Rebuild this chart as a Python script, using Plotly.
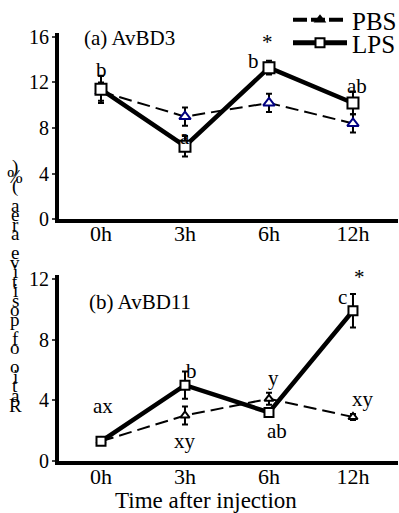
import plotly.graph_objects as go

# ---------------- data ----------------
time_labels = ["0h", "3h", "6h", "12h"]

a_pbs = [11.2, 9.0, 10.2, 8.4]
a_pbs_err = [0.8, 0.8, 0.8, 0.8]
a_lps = [11.4, 6.4, 13.3, 10.2]
a_lps_err = [1.2, 0.9, 0.6, 1.0]

b_pbs = [1.3, 3.0, 4.1, 2.9]
b_pbs_err = [0.1, 0.6, 0.4, 0.2]
b_lps = [1.3, 5.0, 3.2, 9.9]
b_lps_err = [0.1, 0.9, 0.2, 1.1]

a_ticks = [0, 4, 8, 12, 16]
b_ticks = [0, 4, 8, 12]

y_title = "Ratio of positive area (%)"
x_title = "Time after injection"

FONT = "Liberation Serif"
W, H = 399, 513
xs = list(range(len(time_labels)))

fig = go.Figure()


def add_series(y, err, xa, ya, color, symbol, fill, lw, dash, msize):
    fig.add_trace(go.Scatter(
        x=xs, y=y, xaxis=xa, yaxis=ya, mode="lines+markers",
        line=dict(color="black", width=lw, dash=dash),
        marker=dict(symbol=symbol, size=msize, color=fill,
                    line=dict(color=color, width=2)),
        error_y=dict(type="data", array=err, visible=True,
                     color="black", thickness=2, width=3),
        showlegend=False, cliponaxis=False))


# panel (a)
add_series(a_pbs, a_pbs_err, "x", "y", "#000080", "triangle-up", "white", 2, "13px,6px", 10)
add_series(a_lps, a_lps_err, "x", "y", "black", "square", "white", 4.5, "solid", 11)
# panel (b)
add_series(b_pbs, b_pbs_err, "x2", "y2", "black", "triangle-up", "white", 2, "13px,6px", 8)
add_series(b_lps, b_lps_err, "x2", "y2", "black", "square", "white", 4.5, "solid", 9)

# legend entries
fig.add_trace(go.Scatter(x=[None], y=[None], name="PBS", mode="lines+markers",
                         line=dict(color="black", width=4, dash="14px,4px"),
                         marker=dict(symbol="triangle-up", size=11, color="black"),
                         showlegend=True, legend="legend"))
fig.add_trace(go.Scatter(x=[None], y=[None], name="LPS", mode="lines+markers",
                         line=dict(color="black", width=5),
                         marker=dict(symbol="square", size=9, color="white",
                                     line=dict(color="black", width=2)),
                         showlegend=True, legend="legend2"))

L, R = 59, 1
plot_w = W - L - R


def py(px):  # figure pixel y -> paper y (margins t=b=0)
    return (H - px) / H


def px_x(px):  # figure pixel x -> paper x (plot area)
    return (px - L) / plot_w


axis_common = dict(showline=True, linewidth=4, linecolor="black", showgrid=False,
                   zeroline=False, automargin=False)
xfont = dict(family=FONT, size=22, color="black")
yfont = dict(family=FONT, size=20, color="black")

leg_font = dict(family=FONT, size=25, color="black")

fig.update_layout(
    width=W, height=H, margin=dict(l=L, r=R, t=0, b=0, autoexpand=False),
    paper_bgcolor="white", plot_bgcolor="white",
    font=dict(family=FONT, color="black"),
    xaxis=dict(domain=[0, 1], anchor="y", range=[-0.5, 3.536], tickmode="array",
               tickvals=xs, ticktext=time_labels, ticks="", ticklabelstandoff=-8,
               tickfont=xfont, **axis_common),
    yaxis=dict(domain=[py(219), py(33)], anchor="x", range=[0, 16.35], tickmode="array",
               tickvals=a_ticks, ticks="outside", ticklen=3, tickwidth=2,
               ticklabelstandoff=-1, tickfont=yfont, **axis_common),
    xaxis2=dict(domain=[0, 1], anchor="y2", range=[-0.5, 3.536], tickmode="array",
                tickvals=xs, ticktext=time_labels, ticks="", ticklabelstandoff=-7,
                tickfont=xfont, **axis_common),
    yaxis2=dict(domain=[py(461), py(275)], anchor="x2", range=[0, 12.26], tickmode="array",
                tickvals=b_ticks, ticks="outside", ticklen=3, tickwidth=2,
                ticklabelstandoff=-1, tickfont=yfont, **axis_common),
    legend=dict(x=px_x(288), y=py(20), xanchor="left", yanchor="middle",
                font=leg_font, bgcolor="rgba(0,0,0,0)", itemwidth=54),
    legend2=dict(x=px_x(288), y=py(43), xanchor="left", yanchor="middle",
                 font=leg_font, bgcolor="rgba(0,0,0,0)", itemwidth=54),
)

ann = []


def label(text, x, y, xa, ya, size=21, xanchor="center"):
    ann.append(dict(text=text, x=x, y=y, xref=xa, yref=ya, showarrow=False,
                    xanchor=xanchor, yanchor="middle",
                    font=dict(family=FONT, size=size, color="black")))


# panel titles
label("(a) AvBD3", -0.23, 15.9, "x", "y", size=21, xanchor="left")
label("(b) AvBD11", -0.17, 10.5, "x2", "y2", size=21, xanchor="left")

# significance letters, panel (a)
label("b", 0.0, 13.1, "x", "y")
label("a", 1.0, 7.2, "x", "y")
label("b", 1.81, 13.9, "x", "y")
label("*", 1.98, 15.6, "x", "y")
label("ab", 3.05, 11.7, "x", "y")

# significance letters, panel (b)
label("ax", 0.02, 3.6, "x2", "y2")
label("b", 1.08, 5.9, "x2", "y2")
label("xy", 1.0, 1.3, "x2", "y2")
label("y", 2.05, 5.5, "x2", "y2")
label("ab", 2.1, 2.0, "x2", "y2")
label("c", 2.88, 10.8, "x2", "y2")
label("*", 3.08, 12.1, "x2", "y2")
label("xy", 3.12, 4.1, "x2", "y2")

# x-axis title
ann.append(dict(text=x_title, x=px_x(206), y=py(500), xref="paper", yref="paper",
                showarrow=False, xanchor="center", yanchor="middle",
                font=dict(family=FONT, size=23, color="black")))

# stacked (reversed) y-axis title characters
chars = list(reversed(y_title))
top_px, bot_px = 167, 405
step = (bot_px - top_px) / (len(chars) - 1)
for i, ch in enumerate(chars):
    if ch == " ":
        continue
    ann.append(dict(text=ch, x=px_x(15), y=py(top_px + i * step), xref="paper",
                    yref="paper", showarrow=False, xanchor="center", yanchor="middle",
                    font=dict(family=FONT, size=19, color="black")))

fig.update_layout(annotations=ann)

fig.write_html("out.html",
               config={"displayModeBar": False},
               post_script="document.body.style.margin='0';"
                           "document.body.style.overflow='hidden';")
